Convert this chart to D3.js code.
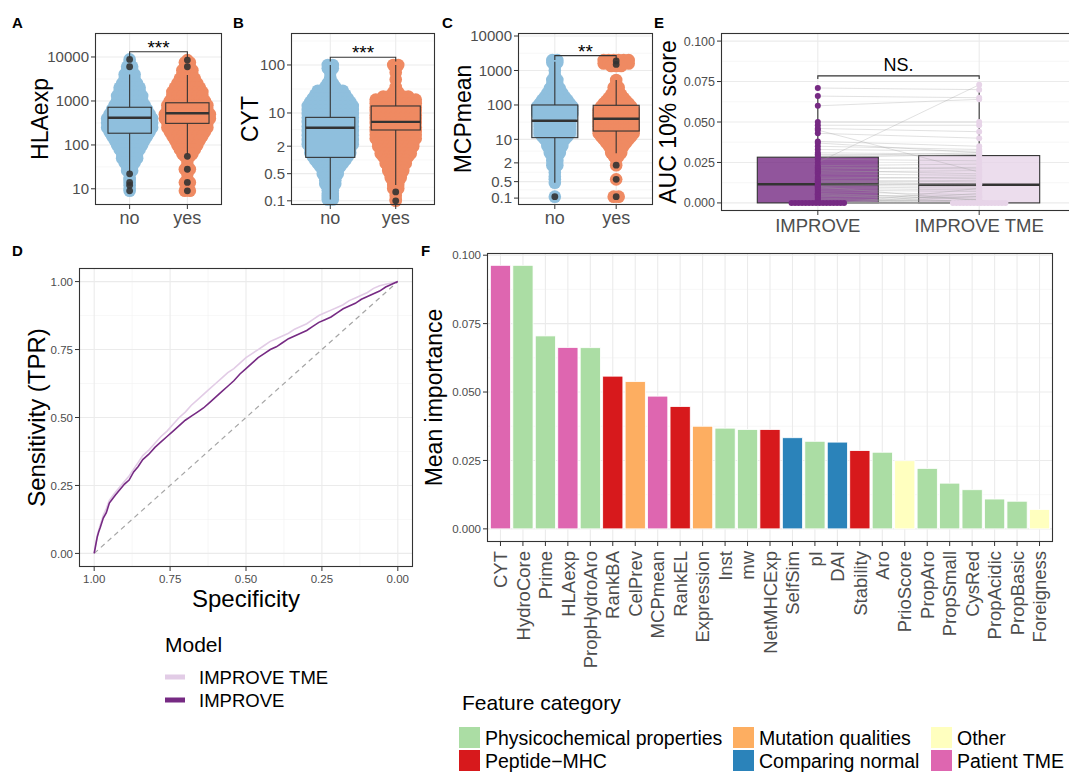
<!DOCTYPE html>
<html><head><meta charset="utf-8">
<script src="https://cdn.jsdelivr.net/npm/d3@7"></script>
<style>
body{margin:0;background:#fff}
svg{display:block}
text{font-family:'Liberation Sans',Arial,Helvetica,sans-serif}
</style>
</head><body><script>
// ---------------- DATA ----------------
const boxGroups = ["no", "yes"];
const groupColors = ["#8FBFDD", "#EF8A62"];

// Panel A : HLAexp  (box = [lower whisker, Q1, median, Q3, upper whisker])
const hlaTicks = [10, 100, 1000, 10000];
const hlaBoxNo = [24, 185, 417, 720, 4000];
const hlaBoxYes = [62, 310, 525, 910, 3900];
const hlaOutNo = [22, 14, 12, 9, 6000, 8800];
const hlaOutYes = [55, 28, 14, 9, 6000, 8500];
const hlaSwarmNo = [[8800,1],[7500,1],[6000,2],[5000,2],[4000,3],[3200,3],[2500,4],[2000,5],[1600,5],[1300,6],[1000,6],[800,7],[640,8],[500,9],[400,10],[320,10],[250,10],[200,9],[160,8],[130,7],[100,6],[80,5],[63,4],[50,4],[40,3],[32,2],[26,2],[22,1],[18,1],[16,1],[14,1],[12,1],[10,1],[9,1]];
const hlaSwarmYes = [[8500,1],[7500,2],[6000,2],[5000,3],[4000,3],[3200,4],[2500,5],[2000,6],[1600,7],[1300,7],[1000,8],[800,9],[640,9],[500,10],[400,10],[320,9],[250,9],[200,8],[160,7],[130,6],[100,5],[80,4],[63,3],[55,2],[45,1],[36,1],[28,2],[22,1],[17,1],[14,2],[11,1],[9,2]];

// Panel B : CYT
const cytTicks = [0.1, 0.5, 2, 10, 100];
const cytBoxNo = [0.11, 1.15, 4.9, 8.1, 100];
const cytBoxYes = [0.27, 4.4, 6.5, 14, 100];
const cytOutNo = [];
const cytOutYes = [0.18, 0.1];
const cytSwarmNo = [[100,2],[85,2],[70,1],[55,1],[42,2],[35,3],[29,6],[24,7],[20,8],[17,9],[14,10],[11.5,10],[9.5,10],[8,10],[6.5,10],[5.2,10],[4.2,10],[3.4,10],[2.7,10],[2.2,10],[1.8,9],[1.45,9],[1.2,8],[1,7],[0.85,6],[0.72,5],[0.6,4],[0.5,4],[0.42,3],[0.35,3],[0.29,3],[0.24,2],[0.2,2],[0.16,2],[0.13,2],[0.11,2]];
const cytSwarmYes = [[100,2],[85,1],[70,1],[50,1],[35,1],[27,2],[22,6],[19,9],[16,9],[13,9],[11,9],[9,9],[7.5,9],[6.2,9],[5,9],[4.2,9],[3.5,9],[2.9,9],[2.4,8],[2,8],[1.7,7],[1.4,7],[1.2,6],[1,5],[0.85,5],[0.7,4],[0.58,4],[0.48,3],[0.4,3],[0.33,2],[0.27,2],[0.22,2],[0.18,1],[0.14,1],[0.11,1],[0.1,1]];

// Panel C : MCPmean
const mcpTicks = [0.1, 0.5, 2, 10, 100, 1000, 10000];
const mcpBoxNo = [0.46, 11.2, 35, 100, 1800];
const mcpBoxYes = [3.9, 17.5, 40, 98, 530];
const mcpOutNo = [0.12];
const mcpOutYes = [1500, 1900, 1.7, 0.6, 0.12];
const mcpSwarmNo = [[2000,2],[1700,2],[1300,1],[1000,1],[750,1],[530,2],[400,2],[300,3],[220,4],[170,5],[140,6],[110,7],[90,8],[70,8],[55,8],[45,7],[37,7],[30,7],[24,7],[19,7],[15,7],[12,6],[10,5],[8,4],[6.5,4],[5,3],[4,3],[3,2],[2.3,2],[1.7,2],[1.3,1],[1,1],[0.75,1],[0.6,1],[0.46,1],[0.12,1]];
const mcpSwarmYes = [[2000,6],[1600,6],[1350,3],[530,1],[420,1],[320,2],[250,2],[200,3],[160,4],[130,5],[110,6],[90,7],[70,8],[55,8],[45,8],[37,8],[30,8],[24,8],[19,8],[15,8],[12,7],[10,6],[8,5],[6.5,4],[5,3],[4,3],[3.2,2],[2.5,1],[1.7,1],[0.6,1],[0.12,2]];

// Panel E : paired AUC 10% scores
const aucModels = ["IMPROVE", "IMPROVE TME"];
const aucImprove = [0,0,0,0,0,0,0,0,0,0,0,0,0,0,0,0,
  0.001,0.002,0.003,0.004,0.005,0.005,0.006,0.007,0.008,0.009,
  0.010,0.010,0.011,0.011,0.012,0.013,0.013,0.014,0.015,0.016,
  0.018,0.019,0.020,0.021,0.022,0.023,0.025,0.027,0.028,0.030,
  0.029,0.031,0.033,0.035,0.037,0.038,0.043,0.045,0.046,0.048,
  0.050,0.060,0.066,0.071];
const aucTME = [0,0,0,0,0,0,0,0,0,0,0,0,0.004,0.002,0.009,0.006,
  0,0.001,0,0.003,0,0.004,0.002,0.005,0.007,0.008,
  0,0.009,0.010,0.012,0.011,0.0115,0.014,0.013,0.016,0.015,
  0.017,0.020,0.018,0.022,0.021,0.024,0.073,0.026,0.030,0.029,
  0.031,0.030,0.032,0.033,0.031,0.035,0.040,0.019,0.044,0.048,
  0.050,0.064,0.065,0.070];
const aucTicks = [0, 0.025, 0.05, 0.075, 0.1];

// Panel D : ROC curves
const rocSpec = [1,0.995,0.99,0.985,0.98,0.97,0.96,0.95,0.94,0.93,0.915,0.9,0.885,0.87,0.855,0.84,0.82,0.8,0.78,0.76,0.74,0.72,0.7,0.68,0.66,0.64,0.62,0.6,0.58,0.56,0.54,0.52,0.5,0.48,0.46,0.44,0.42,0.4,0.38,0.36,0.34,0.32,0.3,0.28,0.26,0.24,0.22,0.2,0.18,0.16,0.14,0.12,0.1,0.08,0.06,0.04,0.02,0];
const rocSensImprove = [0,0.03,0.06,0.08,0.095,0.13,0.15,0.185,0.2,0.215,0.235,0.255,0.27,0.3,0.32,0.345,0.365,0.39,0.41,0.43,0.45,0.47,0.49,0.505,0.52,0.535,0.555,0.575,0.595,0.615,0.635,0.66,0.68,0.7,0.72,0.735,0.75,0.76,0.775,0.79,0.8,0.81,0.82,0.835,0.85,0.86,0.87,0.885,0.9,0.91,0.92,0.935,0.945,0.955,0.965,0.98,0.99,1];
const rocSensTME = [0,0.035,0.065,0.085,0.105,0.14,0.165,0.195,0.21,0.225,0.245,0.265,0.285,0.31,0.335,0.36,0.38,0.405,0.43,0.45,0.475,0.5,0.52,0.545,0.565,0.585,0.605,0.625,0.645,0.665,0.68,0.7,0.72,0.735,0.75,0.765,0.78,0.79,0.8,0.81,0.825,0.835,0.845,0.86,0.875,0.885,0.895,0.905,0.915,0.93,0.94,0.95,0.96,0.975,0.985,0.99,0.995,1];
const rocTicks = [0, 0.25, 0.5, 0.75, 1];
const modelNames = ["IMPROVE TME", "IMPROVE"];
const modelColors = ["#E2CCE6", "#762A83"];

// Panel F : feature importance
const features = ["CYT","HydroCore","Prime","HLAexp","PropHydroAro","RankBA","CelPrev","MCPmean","RankEL","Expression","Inst","mw","NetMHCExp","SelfSim","pI","DAI","Stability","Aro","PrioScore","PropAro","PropSmall","CysRed","PropAcidic","PropBasic","Foreigness"];
const importance = [0.0963,0.0963,0.0705,0.0663,0.0662,0.0558,0.0538,0.0485,0.0447,0.0375,0.0368,0.0363,0.0363,0.0333,0.0320,0.0317,0.0286,0.0280,0.0249,0.0221,0.0167,0.0143,0.0109,0.0101,0.0071];
const featureCategory = ["Patient TME","Physicochemical properties","Physicochemical properties","Patient TME","Physicochemical properties","Peptide\u2212MHC","Mutation qualities","Patient TME","Peptide\u2212MHC","Mutation qualities","Physicochemical properties","Physicochemical properties","Peptide\u2212MHC","Comparing normal","Physicochemical properties","Comparing normal","Peptide\u2212MHC","Physicochemical properties","Other","Physicochemical properties","Physicochemical properties","Physicochemical properties","Physicochemical properties","Physicochemical properties","Other"];
const categories = ["Physicochemical properties","Peptide\u2212MHC","Mutation qualities","Comparing normal","Other","Patient TME"];
const categoryColors = ["#ABDDA4","#D7191C","#FDAE61","#2B83BA","#FFFFBF","#DE66B0"];
const impTicks = [0, 0.025, 0.05, 0.075, 0.1];

// ---------------- DRAWING ----------------
const W = 1069, H = 774;
const TXT = "#4D4D4D", BORDER = "#333333", GRID = "#EBEBEB", GRIDMIN = "#F4F4F4";
const svg = d3.select("body").append("svg").attr("width", W).attr("height", H);

function letter(t, x, y) {
  svg.append("text").attr("x", x).attr("y", y).attr("font-size", 15).attr("font-weight", "bold").attr("fill", "#000").text(t);
}
function yTitle(t, cx, cy, size) {
  svg.append("text").attr("transform", `translate(${cx},${cy}) rotate(-90)`)
    .attr("text-anchor", "middle").attr("dominant-baseline", "central")
    .attr("font-size", size).attr("fill", "#000").text(t);
}
function frame(g, x0, y0, x1, y1) {
  g.append("rect").attr("x", x0 + 0.5).attr("y", y0 + 0.5).attr("width", x1 - x0 - 1).attr("height", y1 - y0 - 1)
    .attr("fill", "none").attr("stroke", BORDER).attr("stroke-width", 1.1);
}

function boxPanel(o) {
  const g = svg.append("g");
  const x = d3.scalePoint().domain(boxGroups).range([o.x0, o.x1]).padding(0.6);
  const fy = d3.scaleLinear().domain(o.fdom).range([o.y1, o.y0]);
  const tr = v => Math.log10(v + o.off);
  const y = v => fy(tr(v));
  const step = x.step();
  const bw = step * 0.75;
  const fT = o.ticks.map(tr);
  const minors = [];
  for (let i = 0; i < fT.length - 1; i++) minors.push((fT[i] + fT[i + 1]) / 2);
  const s0 = fT[1] - fT[0], s1 = fT[fT.length - 1] - fT[fT.length - 2];
  if (fT[0] - s0 / 2 > o.fdom[0]) minors.push(fT[0] - s0 / 2);
  if (fT[fT.length - 1] + s1 / 2 < o.fdom[1]) minors.push(fT[fT.length - 1] + s1 / 2);
  g.selectAll(null).data(minors).join("line").attr("x1", o.x0).attr("x2", o.x1)
    .attr("y1", d => fy(d)).attr("y2", d => fy(d)).attr("stroke", GRIDMIN).attr("stroke-width", 0.7);
  g.selectAll(null).data(o.ticks).join("line").attr("x1", o.x0).attr("x2", o.x1)
    .attr("y1", d => y(d)).attr("y2", d => y(d)).attr("stroke", GRID).attr("stroke-width", 1.1);
  g.selectAll(null).data(boxGroups).join("line").attr("x1", d => x(d)).attr("x2", d => x(d))
    .attr("y1", o.y0).attr("y2", o.y1).attr("stroke", GRID).attr("stroke-width", 1.1);
  boxGroups.forEach((grp, gi) => {
    const rows = o.swarm[gi];
    const dots = [];
    rows.forEach(([v, c]) => { for (let i = 0; i < c; i++) dots.push({ v, k: i - (c - 1) / 2 }); });
    g.selectAll(null).data(dots).join("circle")
      .attr("cx", d => x(grp) + d.k * 5).attr("cy", d => y(d.v)).attr("r", 6.3)
      .attr("fill", groupColors[gi]);
  });
  boxGroups.forEach((grp, gi) => {
    const b = o.box[gi];
    const cx = x(grp);
    g.append("line").attr("x1", cx).attr("x2", cx).attr("y1", y(b[0])).attr("y2", y(b[1])).attr("stroke", BORDER).attr("stroke-width", 1.1);
    g.append("line").attr("x1", cx).attr("x2", cx).attr("y1", y(b[3])).attr("y2", y(b[4])).attr("stroke", BORDER).attr("stroke-width", 1.1);
    g.append("rect").attr("x", cx - bw / 2).attr("y", y(b[3])).attr("width", bw).attr("height", y(b[1]) - y(b[3]))
      .attr("fill", groupColors[gi]).attr("fill-opacity", 0.5).attr("stroke", BORDER).attr("stroke-width", 1.1);
    g.append("line").attr("x1", cx - bw / 2).attr("x2", cx + bw / 2).attr("y1", y(b[2])).attr("y2", y(b[2]))
      .attr("stroke", BORDER).attr("stroke-width", 2.4);
    g.selectAll(null).data(o.out[gi]).join("circle").attr("cx", cx).attr("cy", d => y(d)).attr("r", 3.4)
      .attr("fill", "#333").attr("fill-opacity", 0.9);
  });
  const by = y(o.bracket[0]), ly = y(o.bracket[1]);
  g.append("path").attr("d", `M${x("no")},${ly}V${by}H${x("yes")}V${ly}`).attr("fill", "none").attr("stroke", BORDER).attr("stroke-width", 1.1);
  g.append("text").attr("x", (x("no") + x("yes")) / 2).attr("y", by + 2).attr("text-anchor", "middle")
    .attr("font-size", 19).attr("fill", "#000").text(o.sig);
  frame(g, o.x0, o.y0, o.x1, o.y1);
  g.selectAll(null).data(o.ticks).join("line").attr("x1", o.x0 - 4).attr("x2", o.x0).attr("y1", d => y(d)).attr("y2", d => y(d)).attr("stroke", BORDER);
  g.selectAll(null).data(o.ticks).join("text").attr("x", o.x0 - 6).attr("y", d => y(d)).attr("dy", "0.36em")
    .attr("text-anchor", "end").attr("font-size", 15).attr("fill", TXT).text(d => String(d));
  g.selectAll(null).data(boxGroups).join("line").attr("x1", d => x(d)).attr("x2", d => x(d)).attr("y1", o.y1).attr("y2", o.y1 + 4).attr("stroke", BORDER);
  g.selectAll(null).data(boxGroups).join("text").attr("x", d => x(d)).attr("y", o.y1 + 19)
    .attr("text-anchor", "middle").attr("font-size", 18).attr("fill", TXT).text(d => d);
  yTitle(o.title, o.tx, (o.y0 + o.y1) / 2, 23);
}

boxPanel({ x0: 95, x1: 222, y0: 33, y1: 205, off: 0.1, fdom: [0.636, 4.545], ticks: hlaTicks,
  box: [hlaBoxNo, hlaBoxYes], out: [hlaOutNo, hlaOutYes], swarm: [hlaSwarmNo, hlaSwarmYes],
  bracket: [13200, 9500], sig: "***", title: "HLAexp", tx: 40 });
boxPanel({ x0: 291, x1: 435, y0: 33, y1: 205, off: 0.05, fdom: [-0.911, 2.665], ticks: cytTicks,
  box: [cytBoxNo, cytBoxYes], out: [cytOutNo, cytOutYes], swarm: [cytSwarmNo, cytSwarmYes],
  bracket: [145, 118], sig: "***", title: "CYT", tx: 250 });
boxPanel({ x0: 518, x1: 653, y0: 33, y1: 205, off: 0.1, fdom: [-0.899, 4.087], ticks: mcpTicks,
  box: [mcpBoxNo, mcpBoxYes], out: [mcpOutNo, mcpOutYes], swarm: [mcpSwarmNo, mcpSwarmYes],
  bracket: [2700, 2000], sig: "**", title: "MCPmean", tx: 463 });
letter("A", 12, 28); letter("B", 233, 28); letter("C", 442, 28); letter("E", 654, 28);

// ---------- Panel E ----------
(function () {
  const x0 = 721, x1 = 1076, y0 = 33, y1 = 211;
  const g = svg.append("g");
  const x = d3.scalePoint().domain(aucModels).range([x0, x1]).padding(0.6);
  const y = d3.scaleLinear().domain([-0.005, 0.105]).range([y1, y0]);
  const bw = x.step() * 0.75;
  const minors = [0.0125, 0.0375, 0.0625, 0.0875];
  g.selectAll(null).data(minors).join("line").attr("x1", x0).attr("x2", x1).attr("y1", d => y(d)).attr("y2", d => y(d)).attr("stroke", GRIDMIN).attr("stroke-width", 0.7);
  g.selectAll(null).data(aucTicks).join("line").attr("x1", x0).attr("x2", x1).attr("y1", d => y(d)).attr("y2", d => y(d)).attr("stroke", GRID).attr("stroke-width", 1.1);
  g.selectAll(null).data(aucModels).join("line").attr("x1", d => x(d)).attr("x2", d => x(d)).attr("y1", y0).attr("y2", y1).attr("stroke", GRID).attr("stroke-width", 1.1);
  const series = [aucImprove, aucTME];
  const fills = ["#762A83", "#E7D4E8"];
  series.forEach((vals, si) => {
    const s = vals.slice().sort(d3.ascending);
    const q1 = d3.quantileSorted(s, 0.25), med = d3.quantileSorted(s, 0.5), q3 = d3.quantileSorted(s, 0.75);
    const iqr = q3 - q1;
    const hi = d3.max(s.filter(v => v <= q3 + 1.5 * iqr));
    const lo = d3.min(s.filter(v => v >= q1 - 1.5 * iqr));
    const cx = x(aucModels[si]);
    g.append("line").attr("x1", cx).attr("x2", cx).attr("y1", y(q3)).attr("y2", y(hi)).attr("stroke", BORDER).attr("stroke-width", 1.1);
    g.append("line").attr("x1", cx).attr("x2", cx).attr("y1", y(q1)).attr("y2", y(lo)).attr("stroke", BORDER).attr("stroke-width", 1.1);
    g.append("rect").attr("x", cx - bw / 2).attr("y", y(q3)).attr("width", bw).attr("height", y(q1) - y(q3))
      .attr("fill", fills[si]).attr("fill-opacity", 0.8).attr("stroke", BORDER).attr("stroke-width", 1.1);
    g.append("line").attr("x1", cx - bw / 2).attr("x2", cx + bw / 2).attr("y1", y(med)).attr("y2", y(med)).attr("stroke", BORDER).attr("stroke-width", 2.4);
  });
  const pos = series.map((vals, si) => {
    const zeros = vals.map((v, i) => v === 0 ? i : -1).filter(i => i >= 0);
    const cx = x(aucModels[si]);
    return vals.map((v, i) => {
      if (v === 0) { const k = zeros.indexOf(i); return cx + (k - (zeros.length - 1) / 2) * 3.5; }
      return cx;
    });
  });
  g.selectAll(null).data(aucImprove).join("line")
    .attr("x1", (d, i) => pos[0][i]).attr("y1", d => y(d))
    .attr("x2", (d, i) => pos[1][i]).attr("y2", (d, i) => y(aucTME[i]))
    .attr("stroke", "#9a9a9a").attr("stroke-opacity", 0.3).attr("stroke-width", 1);
  series.forEach((vals, si) => {
    g.selectAll(null).data(vals).join("circle").attr("cx", (d, i) => pos[si][i]).attr("cy", d => y(d)).attr("r", 3)
      .attr("fill", fills[si]);
  });
  const by = y(0.0785), ly = y(0.0765);
  g.append("path").attr("d", `M${x(aucModels[0])},${ly}V${by}H${x(aucModels[1])}V${ly}`).attr("fill", "none").attr("stroke", BORDER).attr("stroke-width", 1.1);
  g.append("text").attr("x", (x(aucModels[0]) + x(aucModels[1])) / 2).attr("y", by - 5).attr("text-anchor", "middle")
    .attr("font-size", 18).attr("fill", "#000").text("NS.");
  frame(g, x0, y0, x1, y1);
  g.selectAll(null).data(aucTicks).join("line").attr("x1", x0 - 4).attr("x2", x0).attr("y1", d => y(d)).attr("y2", d => y(d)).attr("stroke", BORDER);
  g.selectAll(null).data(aucTicks).join("text").attr("x", x0 - 6).attr("y", d => y(d)).attr("dy", "0.36em")
    .attr("text-anchor", "end").attr("font-size", 12.5).attr("fill", TXT).text(d => d3.format(".3f")(d));
  g.selectAll(null).data(aucModels).join("line").attr("x1", d => x(d)).attr("x2", d => x(d)).attr("y1", y1).attr("y2", y1 + 4).attr("stroke", BORDER);
  g.selectAll(null).data(aucModels).join("text").attr("x", d => x(d)).attr("y", y1 + 21)
    .attr("text-anchor", "middle").attr("font-size", 18.5).attr("fill", TXT).text(d => d);
  yTitle("AUC 10% score", 668, (y0 + y1) / 2, 23);
})();

// ---------- Panel D ----------
(function () {
  const x0 = 79, x1 = 413, y0 = 268, y1 = 567;
  const g = svg.append("g");
  const x = d3.scaleLinear().domain([1.05, -0.05]).range([x0, x1]);
  const y = d3.scaleLinear().domain([-0.05, 1.05]).range([y1, y0]);
  const minors = [0.125, 0.375, 0.625, 0.875];
  g.selectAll(null).data(minors).join("line").attr("x1", x0).attr("x2", x1).attr("y1", d => y(d)).attr("y2", d => y(d)).attr("stroke", GRIDMIN).attr("stroke-width", 0.7);
  g.selectAll(null).data(minors).join("line").attr("y1", y0).attr("y2", y1).attr("x1", d => x(d)).attr("x2", d => x(d)).attr("stroke", GRIDMIN).attr("stroke-width", 0.7);
  g.selectAll(null).data(rocTicks).join("line").attr("x1", x0).attr("x2", x1).attr("y1", d => y(d)).attr("y2", d => y(d)).attr("stroke", GRID).attr("stroke-width", 1.1);
  g.selectAll(null).data(rocTicks).join("line").attr("y1", y0).attr("y2", y1).attr("x1", d => x(d)).attr("x2", d => x(d)).attr("stroke", GRID).attr("stroke-width", 1.1);
  g.append("line").attr("x1", x(1)).attr("y1", y(0)).attr("x2", x(0)).attr("y2", y(1))
    .attr("stroke", "#A6A6A6").attr("stroke-width", 1.2).attr("stroke-dasharray", "5,4");
  const line = d3.line().x(d => x(d[0])).y(d => y(d[1]));
  [rocSensTME, rocSensImprove].forEach((sens, i) => {
    g.append("path").attr("d", line(rocSpec.map((s, k) => [s, sens[k]]))).attr("fill", "none")
      .attr("stroke", modelColors[i]).attr("stroke-width", 1.6);
  });
  frame(g, x0, y0, x1, y1);
  g.selectAll(null).data(rocTicks).join("line").attr("x1", x0 - 4).attr("x2", x0).attr("y1", d => y(d)).attr("y2", d => y(d)).attr("stroke", BORDER);
  g.selectAll(null).data(rocTicks).join("text").attr("x", x0 - 6).attr("y", d => y(d)).attr("dy", "0.36em")
    .attr("text-anchor", "end").attr("font-size", 11.5).attr("fill", TXT).text(d => d3.format(".2f")(d));
  g.selectAll(null).data(rocTicks).join("line").attr("x1", d => x(d)).attr("x2", d => x(d)).attr("y1", y1).attr("y2", y1 + 4).attr("stroke", BORDER);
  g.selectAll(null).data(rocTicks).join("text").attr("x", d => x(d)).attr("y", y1 + 16)
    .attr("text-anchor", "middle").attr("font-size", 11.5).attr("fill", TXT).text(d => d3.format(".2f")(d));
  g.append("text").attr("x", (x0 + x1) / 2).attr("y", y1 + 40).attr("text-anchor", "middle").attr("font-size", 24).attr("fill", "#000").text("Specificity");
  yTitle("Sensitivity (TPR)", 36, (y0 + y1) / 2, 24);
  const lg = svg.append("g");
  lg.append("text").attr("x", 165).attr("y", 652).attr("font-size", 21).attr("fill", "#000").text("Model");
  modelNames.forEach((m, i) => {
    const cy = 677 + i * 23;
    lg.append("rect").attr("x", 165).attr("y", cy - 2.5).attr("width", 20).attr("height", 5).attr("fill", modelColors[i]);
    lg.append("text").attr("x", 199).attr("y", cy).attr("dy", "0.36em").attr("font-size", 18.5).attr("fill", "#000").text(m);
  });
})();
letter("D", 12, 256);

// ---------- Panel F ----------
(function () {
  const x0 = 487, x1 = 1053, y0 = 253, y1 = 542;
  const g = svg.append("g");
  const x = d3.scalePoint().domain(features).range([x0, x1]).padding(0.6);
  const y = d3.scaleLinear().domain([-0.0048, 0.1008]).range([y1, y0]);
  const color = d3.scaleOrdinal().domain(categories).range(categoryColors);
  const minors = [0.0125, 0.0375, 0.0625, 0.0875];
  g.selectAll(null).data(minors).join("line").attr("x1", x0).attr("x2", x1).attr("y1", d => y(d)).attr("y2", d => y(d)).attr("stroke", GRIDMIN).attr("stroke-width", 0.7);
  g.selectAll(null).data(impTicks).join("line").attr("x1", x0).attr("x2", x1).attr("y1", d => y(d)).attr("y2", d => y(d)).attr("stroke", GRID).attr("stroke-width", 1.1);
  g.selectAll(null).data(features).join("line").attr("x1", d => x(d)).attr("x2", d => x(d)).attr("y1", y0).attr("y2", y1).attr("stroke", GRID).attr("stroke-width", 1.1);
  const bw = x.step() * 0.9;
  g.selectAll(null).data(features).join("rect")
    .attr("x", d => x(d) - bw / 2).attr("width", bw)
    .attr("y", (d, i) => y(importance[i])).attr("height", (d, i) => y(0) - y(importance[i]))
    .attr("fill", (d, i) => color(featureCategory[i])).attr("stroke", "#fff").attr("stroke-width", 0.8);
  frame(g, x0, y0, x1, y1);
  g.selectAll(null).data(impTicks).join("line").attr("x1", x0 - 4).attr("x2", x0).attr("y1", d => y(d)).attr("y2", d => y(d)).attr("stroke", BORDER);
  g.selectAll(null).data(impTicks).join("text").attr("x", x0 - 6).attr("y", d => y(d)).attr("dy", "0.36em")
    .attr("text-anchor", "end").attr("font-size", 11.5).attr("fill", TXT).text(d => d3.format(".3f")(d));
  g.selectAll(null).data(features).join("line").attr("x1", d => x(d)).attr("x2", d => x(d)).attr("y1", y1).attr("y2", y1 + 4).attr("stroke", BORDER);
  g.selectAll(null).data(features).join("text")
    .attr("transform", d => `translate(${x(d)},${y1 + 9}) rotate(-90)`)
    .attr("text-anchor", "end").attr("dy", "0.36em").attr("font-size", 18.5).attr("fill", TXT).text(d => d);
  yTitle("Mean importance", 434, (y0 + y1) / 2, 23);
  const lg = svg.append("g");
  lg.append("text").attr("x", 462).attr("y", 710).attr("font-size", 21).attr("fill", "#000").text("Feature category");
  const colX = [459, 733, 931];
  categories.forEach((c, i) => {
    const col = Math.floor(i / 2), row = i % 2;
    const sx = colX[col], sy = 727 + row * 23;
    lg.append("rect").attr("x", sx).attr("y", sy).attr("width", 21).attr("height", 21).attr("fill", color(c));
    lg.append("text").attr("x", sx + 26).attr("y", sy + 10.5).attr("dy", "0.36em").attr("font-size", 19.5).attr("fill", "#000").text(c);
  });
})();
letter("F", 421, 256);
</script></body></html>
